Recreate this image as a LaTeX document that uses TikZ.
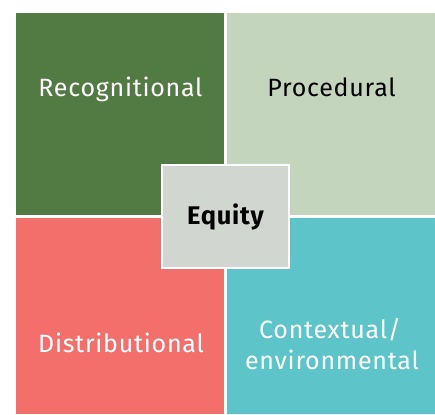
\documentclass[tikz,border=0pt]{standalone}
\usepackage{fontspec}
\setmainfont{Fira Sans}[LetterSpace=3]
\definecolor{recog}{HTML}{527A43}
\definecolor{proc}{HTML}{C4D5BE}
\definecolor{distr}{HTML}{F26F6B}
\definecolor{context}{HTML}{5DC5C9}
\definecolor{equity}{HTML}{D2D6D0}
\begin{document}
\begin{tikzpicture}[x=1pt,y=-1pt,
  label/.style={font=\fontsize{25}{31}\selectfont, anchor=base, inner sep=0pt},
  core/.style={fill=equity, draw=white, line width=2pt, minimum width=127pt, minimum height=103pt, inner sep=0pt,
    font=\fontsize{25.5}{31}\selectfont\bfseries}]
  \useasboundingbox (0,0) rectangle (435,414);
  % four quadrants
  \fill[recog]   (16,13)  rectangle (224,215);
  \fill[proc]    (227,13) rectangle (435,215);
  \fill[distr]   (16,218) rectangle (224,414);
  \fill[context] (227,218) rectangle (435,414);
  % quadrant labels
  \node[label, text=white] (rec) at (120.5,97) {Recognitional};
  \node[label, text=black] (pro) at (331.5,97) {Procedural};
  \node[label, text=white] (dis) at (121,352) {Distributional};
  \node[label, text=white] (con1) at (330,338) {Contextual/};
  \node[label, text=white] (con2) at (332,369) {environmental};
  % central box
  \node[core] (eq) at (225.5,216.5) {Equity};
\end{tikzpicture}
\end{document}
